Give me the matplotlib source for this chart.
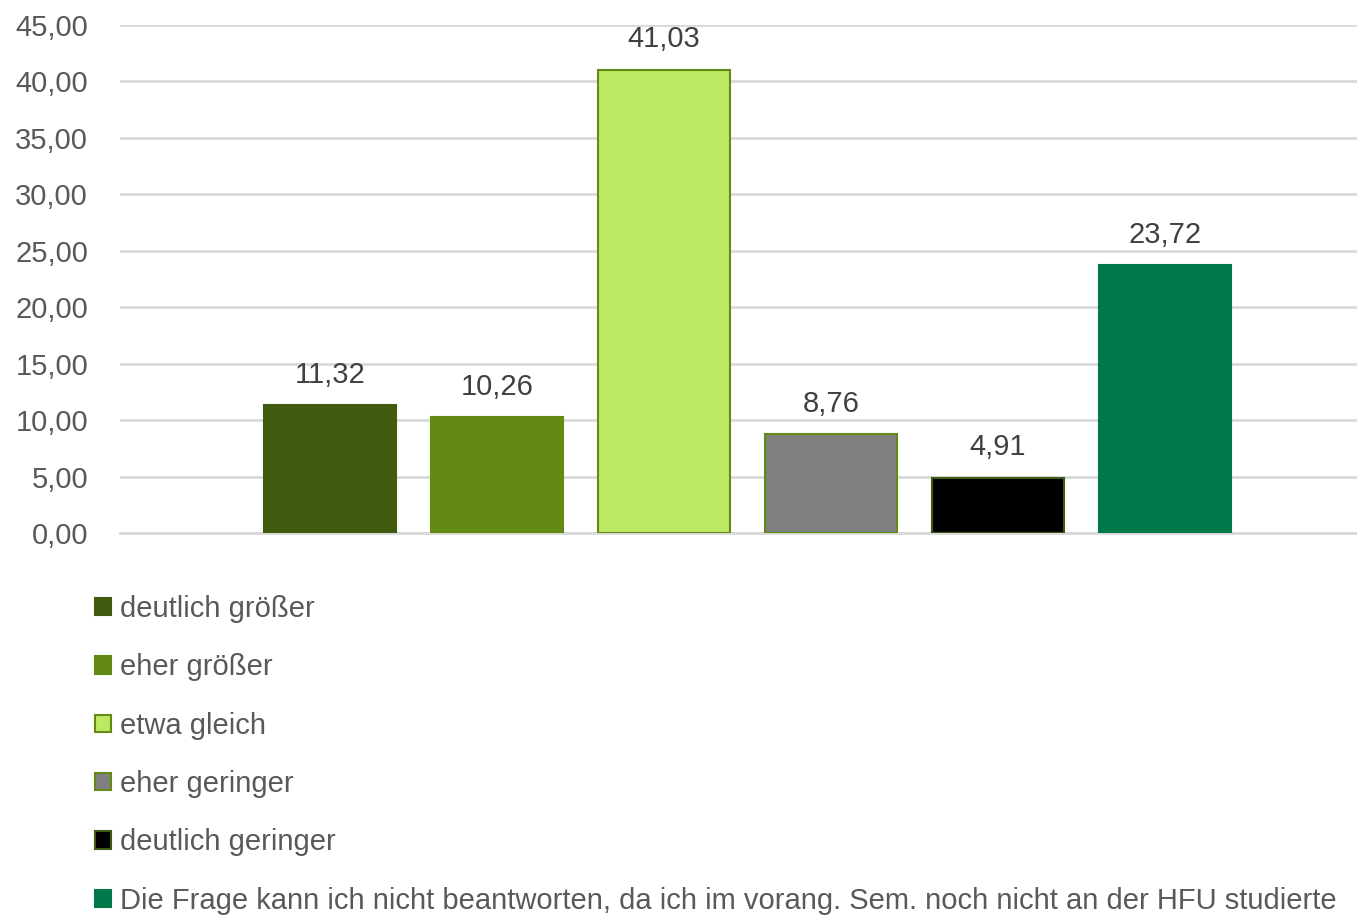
import numpy as np
import matplotlib
matplotlib.use("Agg")
import matplotlib.pyplot as plt

plt.rcParams['font.family'] = ['Liberation Sans Narrow', 'Liberation Sans', 'DejaVu Sans']

# data
labels = ['deutlich größer', 'eher größer', 'etwa gleich', 'eher geringer',
          'deutlich geringer',
          'Die Frage kann ich nicht beantworten, da ich im vorang. Sem. noch nicht an der HFU studierte']
values = [11.32, 10.26, 41.03, 8.76, 4.91, 23.72]
colors = ['#415C0E', '#638A15', '#BDE862', '#808080', '#000000', '#00784A']
edges = ['#415C0E', '#638A15', '#638A15', '#638A15', '#3F5B11', '#00784A']
yticks = np.arange(0, 46, 5)

fig = plt.figure(figsize=(13.57, 9.19), dpi=100)
ax = fig.add_axes([120/1357, (919-533)/919, 1 - 120/1357, (533-25)/919])

x = np.arange(len(values))
handles = []
for i, v in enumerate(values):
    b = ax.bar(x[i], v, width=0.79, color=colors[i], edgecolor=edges[i],
               linewidth=1.5, zorder=3, label=labels[i])
    handles.append(b)
    ax.text(x[i], v + 1.45, f'{v:.2f}'.replace('.', ','), ha='center', va='bottom',
            fontsize=21, color='#404040')

ax.set_xlim(-1.257, 6.15)
ax.set_ylim(0, 45)
ax.set_yticks(yticks)
ax.set_yticklabels([f'{t:.2f}'.replace('.', ',') for t in yticks], fontsize=21, color='#595959')
ax.set_xticks([])
ax.tick_params(axis='y', length=0, pad=23)
ax.grid(axis='y', color='#D9D9D9', linewidth=2, zorder=0)
for s in ['top', 'right', 'left']:
    ax.spines[s].set_visible(False)
ax.spines['bottom'].set_color('#D9D9D9')
ax.spines['bottom'].set_linewidth(2)

leg = fig.legend(handles=handles, loc='upper left', bbox_to_anchor=(95/1357, (919-595)/919),
                 frameon=False, fontsize=21, handlelength=0.55, handleheight=0.55,
                 handletextpad=0.3, labelspacing=1.04, borderaxespad=0, borderpad=0)
for t in leg.get_texts():
    t.set_color('#595959')

fig.savefig('out.png', dpi=100)
